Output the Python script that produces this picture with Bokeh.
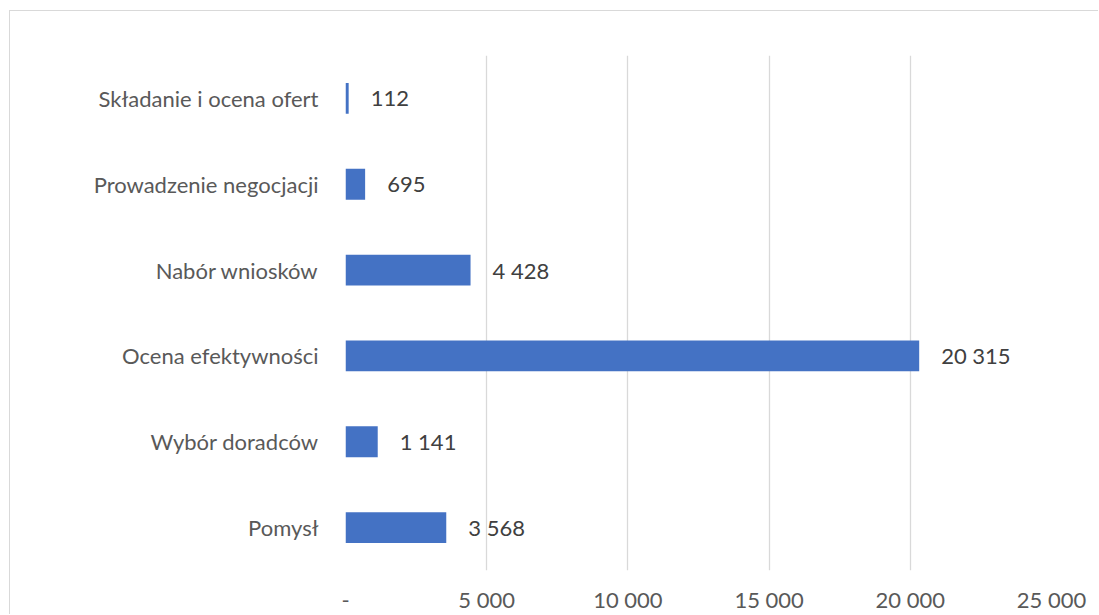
from bokeh.plotting import figure
from bokeh.models import ColumnDataSource, FixedTicker
from bokeh.core.properties import value
from bokeh.embed import file_html
from bokeh.resources import INLINE

categories = ["Pomysł", "Wybór doradców", "Ocena efektywności", "Nabór wniosków",
              "Prowadzenie negocjacji", "Składanie i ocena ofert"]
values = [3568, 1141, 20315, 4428, 695, 112]
x_ticks = [0, 5000, 10000, 15000, 20000, 25000]
x_tick_labels = ["-", "5 000", "10 000", "15 000", "20 000", "25 000"]


def fmt(v):
    return f"{v:,}".replace(",", " ")


src = ColumnDataSource(dict(cat=categories, val=values, lab=[fmt(v) for v in values]))

p = figure(width=1089, height=604, y_range=categories, x_range=(0, 25000),
           output_backend="svg", toolbar_location=None,
           min_border_left=335, min_border_top=44, min_border_bottom=43, min_border_right=48)
p.margin = (10, 0, 0, 9)
p.styles = {"border-top": "1px solid #d9d9d9", "border-left": "1px solid #d9d9d9"}

p.hbar(y="cat", right="val", height=0.36, source=src, fill_color="#4472C4", line_color=None)
p.text(x="val", y="cat", text="lab", source=src, x_offset=22, text_baseline="middle",
       text_align="left", text_font=value("Lato"), text_font_size="22px", text_color="#404040")

p.outline_line_color = None
p.ygrid.grid_line_color = None
p.xgrid.grid_line_color = "#d9d9d9"
p.xgrid.grid_line_width = 1.3
p.xaxis.ticker = FixedTicker(ticks=x_ticks)
p.xaxis.major_label_overrides = {t: l for t, l in zip(x_ticks, x_tick_labels)}

for ax in (p.xaxis[0], p.yaxis[0]):
    ax.axis_line_color = None
    ax.major_tick_line_color = None
    ax.minor_tick_line_color = None
    ax.major_tick_out = 0
    ax.major_tick_in = 0
    ax.major_label_text_font = "Lato"
    ax.major_label_text_font_size = "22px"
    ax.major_label_text_color = "#595959"

p.xaxis.major_label_standoff = 15
p.yaxis.major_label_standoff = 27

open("out.html", "w").write(file_html(p, INLINE))
